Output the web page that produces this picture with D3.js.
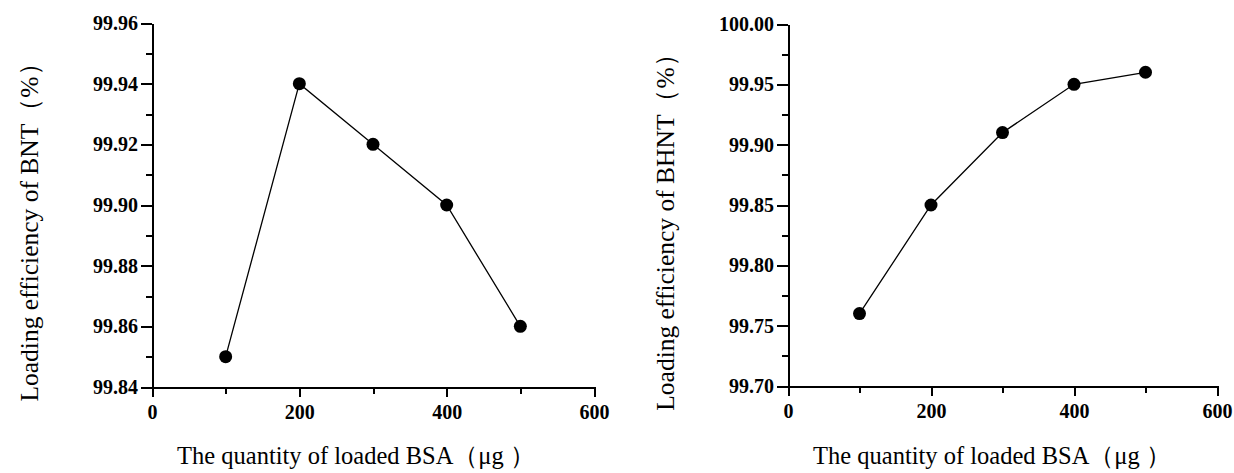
<!DOCTYPE html>
<meta charset="utf-8">
<style>
body { margin: 0; background: #fff; }
.axis path, .axis line { stroke: #000; stroke-width: 2px; shape-rendering: crispEdges; }
</style>
<svg id="plot" width="1234" height="473"></svg>
<script src="https://d3js.org/d3.v7.min.js"></script>
<script>

// data
var bsa = [100, 200, 300, 400, 500];
var bnt = [99.85, 99.94, 99.92, 99.90, 99.86];
var bhnt = [99.76, 99.85, 99.91, 99.95, 99.96];

var xMajor = [0, 200, 400, 600];
var xMinor = [100, 300, 500];
var yMajorL = [99.84, 99.86, 99.88, 99.90, 99.92, 99.94, 99.96];
var yMinorL = [99.85, 99.87, 99.89, 99.91, 99.93, 99.95];
var yMajorR = [99.70, 99.75, 99.80, 99.85, 99.90, 99.95, 100.00];
var yMinorR = [99.725, 99.775, 99.825, 99.875, 99.925, 99.975];

var serif = "Liberation Serif";
var svg = d3.select("svg");

var panels = [
  {vals: bnt, yMajor: yMajorL, yMinor: yMinorL, x0: 152, x1: 594, y0: 387, y1: 23,
   ytitle: "Loading efficiency of BNT（%）", tx: 38},
  {vals: bhnt, yMajor: yMajorR, yMinor: yMinorR, x0: 788, x1: 1217, y0: 386, y1: 24,
   ytitle: "Loading efficiency of BHNT（%）", tx: 674}
];

panels.forEach(function(p) {
  var x = d3.scaleLinear().domain([0, 600]).range([p.x0, p.x1]);
  var y = d3.scaleLinear().domain(d3.extent(p.yMajor)).range([p.y0, p.y1]);
  var g = svg.append("g");

  // minor ticks
  g.append("g").attr("class", "axis")
      .attr("transform", "translate(0," + p.y0 + ")")
      .call(d3.axisBottom(x).tickValues(xMinor).tickSize(7).tickFormat(""))
      .select(".domain").remove();
  g.append("g").attr("class", "axis")
      .attr("transform", "translate(" + p.x0 + ",0)")
      .call(d3.axisLeft(y).tickValues(p.yMinor).tickSize(6).tickFormat(""))
      .select(".domain").remove();

  g.append("g").attr("class", "axis")
      .attr("transform", "translate(0," + p.y0 + ")")
      .call(d3.axisBottom(x).tickValues(xMajor).tickSize(10).tickSizeOuter(0).tickPadding(8));
  g.append("g").attr("class", "axis")
      .attr("transform", "translate(" + p.x0 + ",0)")
      .call(d3.axisLeft(y).tickValues(p.yMajor).tickSize(11).tickSizeOuter(0).tickPadding(3).tickFormat(d3.format(".2f")));

  g.selectAll(".axis text")
      .style("font-family", serif)
      .style("font-weight", "bold")
      .style("font-size", "20px")
      .attr("fill", "#000");

  var line = d3.line()
      .x(function(d, i) { return x(bsa[i]); })
      .y(function(d) { return y(d); });

  g.append("path")
      .datum(p.vals)
      .attr("fill", "none")
      .attr("stroke", "#000")
      .attr("stroke-width", 1.3)
      .attr("d", line);

  g.selectAll(".dot").data(p.vals).enter().append("circle")
      .attr("cx", function(d, i) { return x(bsa[i]); })
      .attr("cy", function(d) { return y(d); })
      .attr("r", 6.5)
      .attr("fill", "#000");

  g.append("text")
      .attr("text-anchor", "middle")
      .attr("x", p.x0 + 204)
      .attr("y", 464)
      .style("font-family", serif)
      .style("font-size", "24.5px")
      .text("The quantity of loaded BSA（μg ）");

  g.append("text")
      .attr("text-anchor", "middle")
      .attr("transform", "translate(" + p.tx + ",226) rotate(-90)")
      .style("font-family", serif)
      .style("font-size", "25.5px")
      .text(p.ytitle);
});

</script>
